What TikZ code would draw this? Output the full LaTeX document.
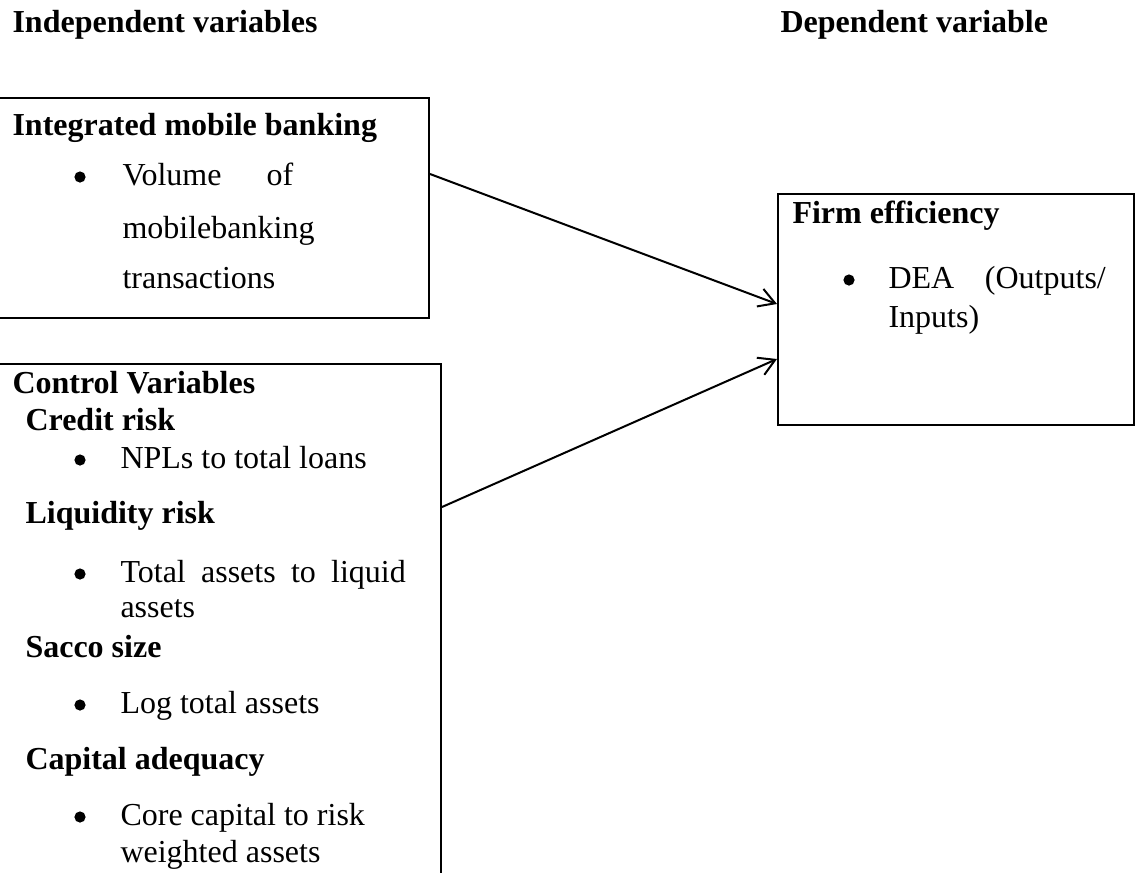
\documentclass[tikz,border=0pt]{standalone}
\usepackage{fontspec}
\setmainfont{Liberation Serif}
\usetikzlibrary{arrows.meta}
\usetikzlibrary{calc}

\tikzset{
  txt/.style={anchor=base west, inner sep=0pt, font=\fontsize{12}{14}\selectfont},
  hd/.style={txt, font=\fontsize{12}{14}\selectfont\bfseries},
  bul/.style={circle, fill, inner sep=0pt, minimum size=4.2pt},
  bx/.style={draw, line width=0.75pt, anchor=north west, inner sep=0pt},
  arr/.style={line width=0.75pt, -{Straight Barb[length=6pt,width=7pt]}}
}

\begin{document}
\begin{tikzpicture}[x=0.375pt,y=-0.375pt]
  \useasboundingbox (0,0) rectangle (1136,872);
  \clip (0,0) rectangle (1136,872);

  \node[hd] (indep) at (12,32) {Independent variables};
  \node[hd] (dep) at (780,32) {Dependent variable};

  % boxes
  \node[bx, minimum width=164.25pt, minimum height=82.5pt] (mob) at (-10,97) {};
  \node[bx, minimum width=168.75pt, minimum height=201.4pt] (ctrl) at (-10,363) {};
  \node[bx, minimum width=133.5pt, minimum height=86.6pt] (firm) at (777,193) {};

  % integrated mobile banking
  \node[hd] (mobh) at (12,135) {Integrated mobile banking};
  \node[bul] (b1) at (80,177) {};
  \node[txt] (vol) at (122,185) {\hbox to 64pt{Volume\hfill of}};
  \node[txt] (mbk) at (122,238) {mobilebanking};
  \node[txt] (trn) at (122,288) {transactions};

  % control variables
  \node[hd] (ctrlh) at (12,393) {Control Variables};
  \node[hd] (cr) at (25,430) {Credit risk};
  \node[bul] (b2) at (80,460) {};
  \node[txt] (npl) at (120,468) {NPLs to total loans};
  \node[hd] (lr) at (25,523) {Liquidity risk};
  \node[bul] (b3) at (80,574) {};
  \node[txt] (tal) at (120,582) {\hbox to 107pt{Total\hfill assets\hfill to\hfill liquid}};
  \node[txt] (tal2) at (120,617) {assets};
  \node[hd] (ss) at (25,657) {Sacco size};
  \node[bul] (b4) at (80,705) {};
  \node[txt] (lta) at (120,713) {Log total assets};
  \node[hd] (ca) at (25,769) {Capital adequacy};
  \node[bul] (b5) at (80,817) {};
  \node[txt] (cc) at (120,825) {Core capital to risk};
  \node[txt] (cc2) at (120,862) {weighted assets};

  % firm efficiency
  \node[hd] (firmh) at (792,223) {Firm efficiency};
  \node[bul] (b6) at (849,280) {};
  \node[txt] (dea) at (888,288) {\hbox to 81.5pt{DEA\hfill (Outputs/}};
  \node[txt] (inp) at (888,327) {Inputs)};

  \draw[arr] ($(mob.north east)+(0,77)$) -- ($(firm.north west)+(0,111)$);
  \draw[arr] ($(ctrl.north east)+(0,144)$) -- ($(firm.north west)+(0,166)$);
\end{tikzpicture}
\end{document}
